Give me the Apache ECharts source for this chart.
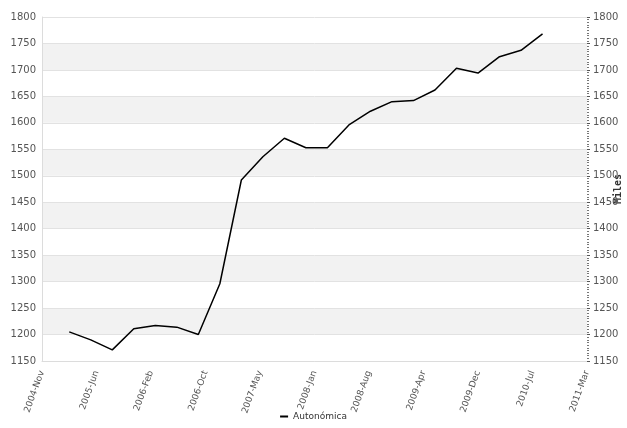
<!DOCTYPE html>
<html>
<head>
<meta charset="utf-8">
<script src="https://cdn.jsdelivr.net/npm/echarts@6/dist/echarts.min.js"></script>
<style>
  html, body { margin: 0; padding: 0; background: #fff; }
  #chart { width: 627px; height: 428px; }
</style>
</head>
<body>
<div id="chart"></div>
<script>
// quarters (year, quarter) and values in thousands
const quarters = [
  '2005-Q1', '2005-Q2', '2005-Q3', '2005-Q4',
  '2006-Q1', '2006-Q2', '2006-Q3', '2006-Q4',
  '2007-Q1', '2007-Q2', '2007-Q3', '2007-Q4',
  '2008-Q1', '2008-Q2', '2008-Q3', '2008-Q4',
  '2009-Q1', '2009-Q2', '2009-Q3', '2009-Q4',
  '2010-Q1', '2010-Q2', '2010-Q3'
];
const autonomica = [
  1205, 1190, 1171, 1211,
  1217, 1214, 1200, 1296,
  1492, 1536, 1571, 1553,
  1553, 1596, 1622, 1640,
  1642, 1662, 1703, 1694,
  1725, 1737, 1768
];
const xTickLabels = ['2004-Nov', '2005-Jun', '2006-Feb', '2006-Oct', '2007-May', '2008-Jan',
  '2008-Aug', '2009-Apr', '2009-Dec', '2010-Jul', '2011-Mar'];

// x axis measured in months since 2004-Nov
const monthsOf = q => {
  const [y, qq] = q.split('-Q').map(Number);
  return (y - 2004) * 12 + (qq - 1) * 3 + 3.8 - 12;
};
const seriesData = quarters.map((q, i) => [monthsOf(q), autonomica[i]]);

const chart = echarts.init(document.getElementById('chart'));
const textColor = '#555';
const font = 'DejaVu Sans';

chart.setOption({
  animation: false,
  grid: { left: 42, right: 40, top: 17, bottom: 67, containLabel: false, outerBoundsMode: 'none' },
  legend: {
    bottom: 2,
    left: 'center',
    itemWidth: 8,
    itemHeight: 2,
    icon: 'rect',
    textStyle: { fontSize: 9, color: '#333', fontFamily: font },
    data: ['Autonómica']
  },
  xAxis: {
    type: 'value',
    min: 0,
    max: 76,
    interval: 7.6,
    axisLine: { show: true, lineStyle: { color: '#dcdcdc' } },
    axisTick: { show: false },
    splitLine: { show: false },
    axisLabel: {
      rotate: 70,
      fontSize: 9,
      color: textColor,
      fontFamily: font,
      margin: 10,
      showMinLabel: true,
      showMaxLabel: true,
      formatter: v => xTickLabels[Math.round(v / 7.6)] || ''
    }
  },
  yAxis: [
    {
      type: 'value',
      position: 'left',
      min: 1150,
      max: 1800,
      interval: 50,
      axisLine: { show: true, lineStyle: { color: '#dcdcdc' } },
      axisTick: { show: false },
      axisLabel: { fontSize: 10, color: textColor, fontFamily: font, margin: 6, formatter: v => String(v) },
      splitLine: { show: true, lineStyle: { color: '#e2e2e2' } },
      splitArea: { show: true, areaStyle: { color: ['#ffffff', '#f2f2f2'] } }
    },
    {
      type: 'value',
      position: 'right',
      min: 1150,
      max: 1800,
      interval: 50,
      name: 'Miles',
      nameLocation: 'middle',
      nameRotate: 90,
      nameGap: 26,
      nameMoveOverlap: false,
      nameTextStyle: { fontSize: 10, fontWeight: 'bold', color: '#333', fontFamily: 'DejaVu Sans Mono' },
      axisLine: { show: false },
      axisTick: { show: true, length: 3, lineStyle: { color: '#555' } },
      minorTick: { show: true, splitNumber: 10, length: 2, lineStyle: { color: '#777' } },
      axisLabel: { fontSize: 10, color: textColor, fontFamily: font, margin: 6, formatter: v => String(v) },
      splitLine: { show: false }
    }
  ],
  series: [
    {
      name: 'Autonómica',
      type: 'line',
      data: seriesData,
      showSymbol: false,
      symbol: 'none',
      itemStyle: { color: '#000' },
      lineStyle: { color: '#000', width: 1.5 }
    }
  ]
});
</script>
</body>
</html>
